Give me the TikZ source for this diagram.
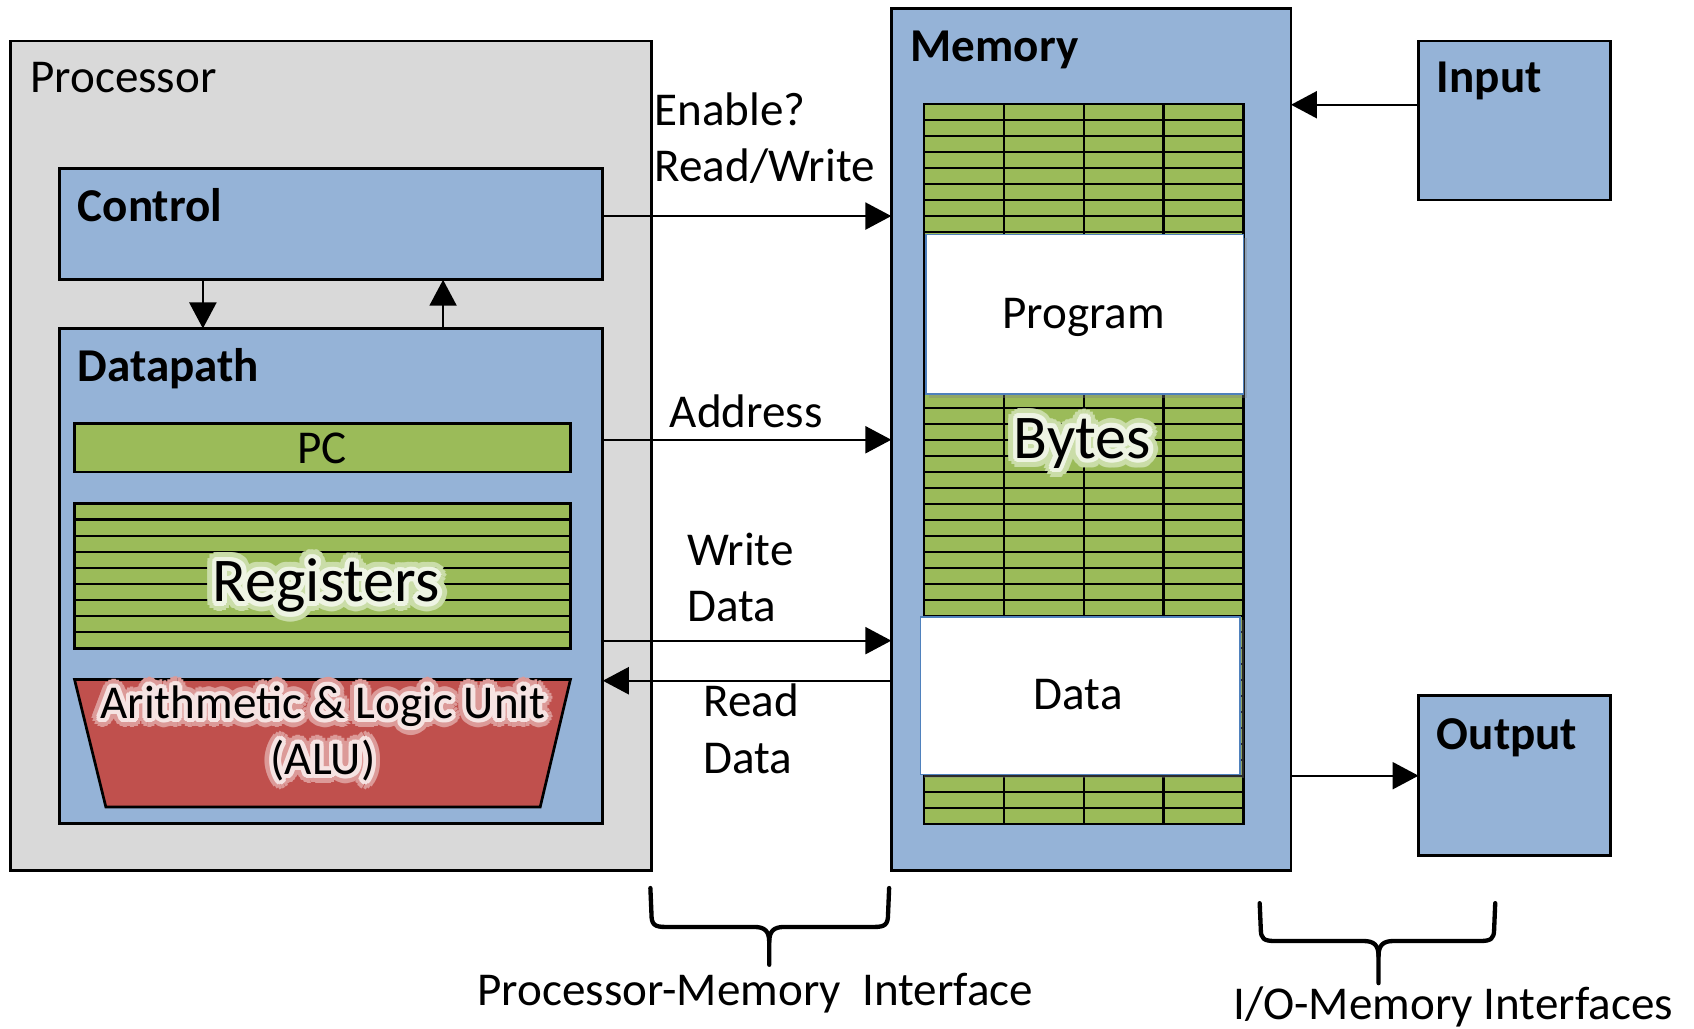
\documentclass[tikz,border=0pt]{standalone}
\usepackage{fontspec}
\setmainfont{Carlito}
\usepackage[copies]{contour}
\usetikzlibrary{arrows.meta,fit,calc,shadows}
\definecolor{procgray}{HTML}{D9D9D9}
\definecolor{boxblue}{HTML}{95B3D7}
\definecolor{cellgreen}{HTML}{9BBB59}
\definecolor{alured}{HTML}{C0504D}
\definecolor{progblue}{HTML}{4F81BD}
\definecolor{glowg}{HTML}{EEF4E3}
\definecolor{glowgmid}{HTML}{CADDA8}
\definecolor{glowr}{HTML}{F6E3E2}
\definecolor{glowrmid}{HTML}{DC9A98}
\newcommand\lblfont{\fontsize{21.8}{26}\selectfont}
\newcommand\bigfont{\fontsize{28.8}{34}\selectfont}
\begin{document}
\begin{tikzpicture}[x=0.5pt,y=-0.5pt,
  every node/.style={inner sep=0pt, outer sep=0pt},
  box/.style={draw=black, line width=1.25pt},
  lbl/.style={font=\lblfont},
  blbl/.style={font=\lblfont\bfseries},
  biglbl/.style={font=\bigfont},
  gridline/.style={draw=black, line width=1pt},
  arr/.style={draw=black, line width=1pt, -{Triangle[length=12pt,width=12.5pt]}},
  brace/.style={draw=black, line width=2pt, line cap=round, line join=round},
  whitebox/.style={fill=white, draw=progblue, line width=0.8pt,
    drop shadow={opacity=0.35, shadow xshift=1.5pt, shadow yshift=-1.5pt}}]
\useasboundingbox (0,0) rectangle (1568,952);

% ---------- Processor ----------
\node[box, fill=procgray, fit={(10,38) (603,806)}] (proc) {};
\node[lbl, anchor=base west] (proclbl) at (28,86) {Processor};

\node[box, fill=boxblue, fit={(55,156) (558,259)}] (control) {};
\node[blbl, anchor=base west] (ctllbl) at (72,205) {Control};

\node[box, fill=boxblue, fit={(55,304) (558,762)}] (dp) {};
\node[blbl, anchor=base west] (dplbl) at (72,353.5) {Datapath};

\node[box, fill=cellgreen, fit={(69,392) (528,437)}] (pc) {};
\node[lbl, anchor=base] (pclbl) at (298,429) {PC};

\node[box, fill=cellgreen, fit={(69,466) (528,600)}] (regs) {};
\foreach \k in {1,...,8}
  \draw[gridline] ($(regs.north west)!\k/9!(regs.south west)$) -- ($(regs.north east)!\k/9!(regs.south east)$);
\node[biglbl, anchor=base, text=glowgmid] (regglow) at (302,557) {\contourlength{4.5pt}\contour{glowgmid}{Registers}};
\node[biglbl, anchor=base] (reglbl) at (302,557) {\contourlength{2.2pt}\contour{glowg}{Registers}};

\draw[box, fill=alured] (69,629) coordinate (alutl) -- (528,629) coordinate (alutr)
  -- (500,747) coordinate (alubr) -- (98,747) coordinate (alubl) -- cycle;
\node[lbl, anchor=base, text=glowrmid] (aluglowa) at (299,665) {\contourlength{4pt}\contour{glowrmid}{Arithmetic \& Logic Unit}};
\node[lbl, anchor=base] (alulbla) at (299,665) {\contourlength{2pt}\contour{glowr}{Arithmetic \& Logic Unit}};
\node[lbl, anchor=base, text=glowrmid] (aluglowb) at (299,717) {\contourlength{4pt}\contour{glowrmid}{(ALU)}};
\node[lbl, anchor=base] (alulblb) at (299,717) {\contourlength{2pt}\contour{glowr}{(ALU)}};

% control <-> datapath
\draw[arr] ($(control.south west)!0.264!(control.south east)$) coordinate (cd1) -- (cd1 |- dp.north);
\draw[arr] ($(dp.north west)!0.706!(dp.north east)$) coordinate (dc1) -- (dc1 |- control.south);

% ---------- Memory ----------
\node[box, fill=boxblue, fit={(825,8) (1195,806)}] (mem) {};
\node[blbl, anchor=base west] (memlbl) at (843,57) {Memory};

\node[draw=black, line width=1pt, fill=cellgreen, fit={(855,96) (1151,763)}] (grid) {};
\foreach \k in {1,...,44}
  \draw[gridline] ($(grid.north west)!\k/45!(grid.south west)$) -- ($(grid.north east)!\k/45!(grid.south east)$);
\foreach \k in {1,2,3}
  \draw[gridline] ($(grid.north west)!\k/4!(grid.north east)$) -- ($(grid.south west)!\k/4!(grid.south east)$);

\node[whitebox, fit={(857,217) (1151,365)}] (prog) {};
\node[lbl, anchor=base] (proglbl) at (1003,304) {Program};

\node[whitebox, fit={(852,571) (1148,717)}] (data) {};
\node[lbl, anchor=base] (datalbl) at (998,657) {Data};

\node[biglbl, anchor=base, text=glowgmid] (bytesglow) at (1002,424) {\contourlength{4.5pt}\contour{glowgmid}{Bytes}};
\node[biglbl, anchor=base] (byteslbl) at (1002,424) {\contourlength{2.2pt}\contour{glowg}{Bytes}};

% ---------- I/O ----------
\node[box, fill=boxblue, fit={(1313,38) (1491,185)}] (input) {};
\node[blbl, anchor=base west] (inlbl) at (1330,86) {Input};
\node[box, fill=boxblue, fit={(1313,644) (1491,792)}] (output) {};
\node[blbl, anchor=base west] (outlbl) at (1330,694) {Output};

% ---------- connectors ----------
\draw[arr] ($(control.north east)!0.427!(control.south east)$) coordinate (rw1) -- (rw1 -| mem.west);
\node[lbl, anchor=base west] (enlbl) at (606,116.5) {Enable?};
\node[lbl, anchor=base west] (rwlbl) at (606,168) {Read/Write};

\draw[arr] ($(dp.north east)!0.225!(dp.south east)$) coordinate (ad1) -- (ad1 -| mem.west);
\node[lbl, anchor=base west] (adlbl) at (620,396) {Address};

\draw[arr] ($(dp.north east)!0.631!(dp.south east)$) coordinate (wd1) -- (wd1 -| mem.west);
\node[lbl, anchor=base west] (wdlbla) at (636,523) {Write};
\node[lbl, anchor=base west] (wdlblb) at (636,575) {Data};

\path ($(dp.north east)!0.712!(dp.south east)$) coordinate (rd1);
\draw[arr] (rd1 -| mem.west) -- (rd1);
\node[lbl, anchor=base west] (rdlbla) at (651,663) {Read};
\node[lbl, anchor=base west] (rdlblb) at (651,716) {Data};

\draw[arr] ($(input.north west)!0.401!(input.south west)$) coordinate (in1) -- (in1 -| mem.east);
\draw[arr] (output.west -| mem.east) -- (output.west);

% ---------- braces ----------
\draw[brace] (602,822) -- (603,846) .. controls (603,856) and (606,858) .. (616,858)
  -- (698,858) .. controls (708,858) and (712,862) .. (712,872) -- (712,893);
\draw[brace] (823,822) -- (822,846) .. controls (822,856) and (819,858) .. (809,858)
  -- (726,858) .. controls (716,858) and (712,862) .. (712,872);
\node[lbl, anchor=base] (pmlbl) at (699,931) {Processor-Memory~ Interface};

\draw[brace] (1166,836) -- (1167,860) .. controls (1167,869) and (1170,871) .. (1180,871)
  -- (1262,871) .. controls (1272,871) and (1276,875) .. (1276,885) -- (1276,910);
\draw[brace] (1384,836) -- (1383,860) .. controls (1383,869) and (1380,871) .. (1370,871)
  -- (1290,871) .. controls (1280,871) and (1276,875) .. (1276,885);
\node[lbl, anchor=base] (iolbl) at (1345,944) {I/O-Memory Interfaces};
\end{tikzpicture}
\end{document}
